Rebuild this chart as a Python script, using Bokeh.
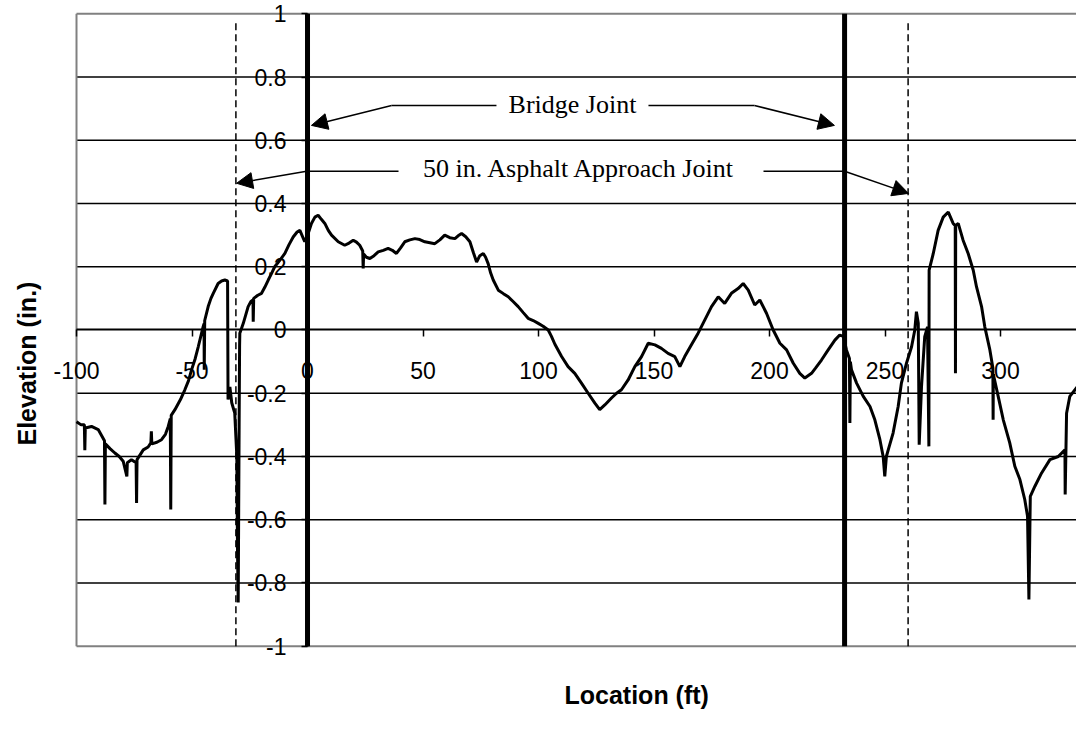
from bokeh.plotting import figure
from bokeh.models import (Range1d, LinearAxis, FixedTicker, Label, Arrow,
                          NormalHead, NumeralTickFormatter, Title)
from bokeh.embed import file_html
from bokeh.resources import INLINE

# ---------------- data ----------------
location_ft = [
    -100.0, -98.0, -96.6, -96.4, -96.2, -93.5, -90.6, -87.9, -87.7, -87.5,
    -85.5, -83.4, -81.5, -79.8, -78.2, -78.0, -76.2, -74.2, -74.0, -73.8,
    -71.1, -69.0, -67.8, -67.6, -67.4, -65.2, -63.2, -61.5, -60.3, -59.4,
    -59.2, -59.0, -57.4, -55.0, -53.1, -51.5, -50.2, -48.6, -47.3, -46.2,
    -45.2, -44.8, -44.7, -44.5, -43.0, -41.8, -40.8, -38.7, -37.2, -35.8,
    -34.6, -34.4, -33.6, -32.8, -31.5, -30.6, -30.3, -30.0, -29.6, -29.4,
    -29.3, -27.8, -25.7, -24.5, -23.6, -23.5, -23.3, -21.5, -19.9, -18.5,
    -17.0, -15.5, -14.2, -12.0, -9.8, -8.0, -6.2, -4.5, -3.3, -1.2,
    0.5, 1.7, 3.2, 4.6, 6.0, 7.5, 9.0, 10.4, 13.3, 16.1,
    18.0, 19.8, 21.2, 22.6, 23.9, 24.1, 24.3, 25.5, 27.0, 28.8,
    30.6, 32.8, 34.9, 36.7, 38.5, 40.3, 42.1, 44.3, 46.5, 48.6,
    50.8, 53.0, 55.1, 57.3, 59.4, 61.6, 63.8, 65.2, 66.7, 68.5,
    70.3, 71.8, 73.2, 74.6, 76.1, 77.1, 78.2, 79.3, 80.4, 82.6,
    84.8, 86.9, 89.0, 91.2, 93.4, 95.5, 97.7, 99.9, 102.0, 104.2,
    105.6, 107.1, 110.0, 112.8, 115.7, 118.6, 121.5, 124.4, 126.5, 128.7,
    131.6, 133.8, 135.9, 138.8, 141.7, 144.6, 147.5, 150.4, 153.2, 156.1,
    159.0, 161.2, 163.3, 166.2, 169.1, 172.0, 174.9, 177.8, 180.6, 183.5,
    186.4, 188.6, 190.8, 193.6, 195.8, 198.7, 201.6, 204.5, 207.4, 210.3,
    213.1, 215.3, 218.2, 220.0, 222.5, 225.4, 228.3, 230.4, 232.0, 233.3,
    234.6, 234.8, 235.0, 235.5, 237.7, 240.6, 243.5, 245.6, 247.8, 249.2,
    249.9, 250.6, 251.4, 253.5, 255.7, 257.1, 259.3, 261.5, 262.9, 263.6,
    264.4, 264.8, 265.8, 267.2, 268.4, 269.0, 269.1, 270.9, 273.0, 275.2,
    277.4, 279.5, 280.4, 280.5, 280.6, 281.7, 283.8, 286.0, 288.2, 289.6,
    291.8, 293.2, 295.4, 296.7, 296.8, 296.9, 299.0, 301.2, 304.0, 306.2,
    308.4, 310.5, 311.7, 312.3, 312.9, 314.9, 317.8, 321.4, 325.0, 327.9,
    328.0, 328.6, 330.0, 333.3, 335.0,
]
elevation_in = [
    -0.29, -0.30, -0.30, -0.38, -0.31, -0.305, -0.315, -0.35, -0.552, -0.36,
    -0.375, -0.389, -0.40, -0.415, -0.463, -0.42, -0.41, -0.42, -0.547, -0.41,
    -0.379, -0.37, -0.357, -0.32, -0.36, -0.355, -0.347, -0.33, -0.305, -0.28,
    -0.568, -0.27, -0.252, -0.22, -0.189, -0.16, -0.126, -0.09, -0.053, -0.02,
    0.01, 0.02, -0.126, 0.03, 0.074, 0.10, 0.116, 0.147, 0.155, 0.158,
    0.155, -0.22, -0.18, -0.23, -0.263, -0.40, -0.70, -0.862, -0.30, -0.05,
    -0.01, 0.021, 0.074, 0.09, 0.095, 0.026, 0.10, 0.11, 0.116, 0.135,
    0.158, 0.18, 0.20, 0.22, 0.242, 0.27, 0.294, 0.31, 0.315, 0.279,
    0.31, 0.337, 0.357, 0.363, 0.35, 0.337, 0.315, 0.30, 0.279, 0.268,
    0.275, 0.284, 0.278, 0.268, 0.25, 0.195, 0.24, 0.23, 0.226, 0.235,
    0.247, 0.252, 0.258, 0.252, 0.242, 0.26, 0.279, 0.285, 0.289, 0.286,
    0.279, 0.276, 0.273, 0.285, 0.30, 0.292, 0.289, 0.298, 0.305, 0.295,
    0.279, 0.245, 0.215, 0.235, 0.242, 0.23, 0.21, 0.18, 0.158, 0.126,
    0.115, 0.105, 0.09, 0.074, 0.055, 0.037, 0.03, 0.021, 0.012, 0.0,
    -0.02, -0.045, -0.084, -0.116, -0.137, -0.168, -0.20, -0.231, -0.252, -0.237,
    -0.215, -0.20, -0.189, -0.158, -0.116, -0.084, -0.042, -0.047, -0.058, -0.074,
    -0.084, -0.116, -0.084, -0.047, -0.01, 0.032, 0.074, 0.105, 0.084, 0.116,
    0.131, 0.147, 0.126, 0.079, 0.095, 0.053, 0.0, -0.042, -0.063, -0.105,
    -0.137, -0.152, -0.137, -0.12, -0.095, -0.063, -0.032, -0.016, -0.02, -0.063,
    -0.09, -0.294, -0.10, -0.126, -0.168, -0.21, -0.242, -0.284, -0.347, -0.40,
    -0.463, -0.40, -0.379, -0.326, -0.242, -0.168, -0.105, -0.053, 0.0, 0.058,
    0.021, -0.363, -0.179, -0.021, 0.01, -0.368, 0.189, 0.242, 0.315, 0.357,
    0.373, 0.337, 0.33, -0.137, 0.33, 0.337, 0.284, 0.242, 0.189, 0.137,
    0.074, 0.01, -0.063, -0.12, -0.284, -0.14, -0.21, -0.284, -0.357, -0.431,
    -0.473, -0.536, -0.589, -0.852, -0.526, -0.494, -0.452, -0.41, -0.40, -0.379,
    -0.52, -0.263, -0.21, -0.179, -0.17,
]

bridge_joints_ft = [0.0, 232.5]
approach_joints_ft = [-31.0, 260.0]

x_ticks = [-100, -50, 0, 50, 100, 150, 200, 250, 300, 350]
y_ticks = [-1, -0.8, -0.6, -0.4, -0.2, 0, 0.2, 0.4, 0.6, 0.8, 1]
y_grid = [-0.8, -0.6, -0.4, -0.2, 0.2, 0.4, 0.6, 0.8]
x_min, x_max = -100, 345
y_min, y_max = -1, 1

x_title = "Location (ft)"
y_title = "Elevation (in.)"
bridge_text = "Bridge Joint"
approach_text = "50 in. Asphalt Approach Joint"

# ---------------- figure ----------------
p = figure(width=1076, height=745,
           x_range=Range1d(-111.26, 332.9), y_range=Range1d(-1.0515, 1.042),
           x_axis_type=None, y_axis_type=None,
           output_backend="svg", toolbar_location=None,
           min_border_left=50, min_border_right=0,
           min_border_top=0, min_border_bottom=83)
p.outline_line_color = None
p.background_fill_color = "white"
p.border_fill_color = "white"

# horizontal gridlines
p.segment(x0=[x_min] * len(y_grid), y0=y_grid, x1=[x_max] * len(y_grid), y1=y_grid,
          line_color="black", line_width=1.5)
# plot-area border (top, bottom, left)
p.segment(x0=[x_min, x_min, x_min], y0=[y_max, y_min, y_min],
          x1=[x_max, x_max, x_min], y1=[y_max, y_min, y_max],
          line_color="#808080", line_width=2)

# dashed approach joints
p.segment(x0=approach_joints_ft, y0=[y_min] * 2, x1=approach_joints_ft, y1=[0.978] * 2,
          line_color="black", line_width=1.5, line_dash="7 4")

# profile
p.line(location_ft, elevation_in, line_color="black", line_width=3)

# bridge joints (thick)
p.segment(x0=bridge_joints_ft, y0=[y_min] * 2, x1=bridge_joints_ft, y1=[y_max] * 2,
          line_color="black", line_width=5)

# axes crossing at zero
xaxis = LinearAxis(fixed_location=0, ticker=FixedTicker(ticks=x_ticks),
                   bounds=(x_min, x_max),
                   formatter=NumeralTickFormatter(format="0"),
                   axis_line_color="black", axis_line_width=2,
                   major_tick_line_color="black", major_tick_line_width=1.5,
                   major_tick_out=7, major_tick_in=0,
                   minor_tick_line_color=None,
                   major_label_standoff=25,
                   major_label_text_font="Liberation Sans",
                   major_label_text_font_size="23px",
                   major_label_text_color="black")
p.add_layout(xaxis, "below")

yaxis = LinearAxis(fixed_location=0, ticker=FixedTicker(ticks=y_ticks),
                   bounds=(y_min, y_max),
                   formatter=NumeralTickFormatter(format="0.[0]"),
                   axis_line_color="black", axis_line_width=2,
                   major_tick_line_color="black", major_tick_line_width=1.5,
                   major_tick_out=6, major_tick_in=0,
                   minor_tick_line_color=None,
                   major_label_standoff=15,
                   major_label_text_font="Liberation Sans",
                   major_label_text_font_size="23px",
                   major_label_text_color="black")
p.add_layout(yaxis, "left")

# leader lines and arrows
p.segment(x0=[36.4, 147.6, -0.4, 197.4], y0=[0.710, 0.710, 0.502, 0.502],
          x1=[81.8, 193.5, 39.4, 232.5], y1=[0.710, 0.710, 0.502, 0.502],
          line_color="black", line_width=1.5)
for xs, ys, xe, ye in [(36.4, 0.710, 1.7, 0.647), (193.5, 0.710, 228.1, 0.647),
                       (-0.4, 0.502, -30.7, 0.464), (232.5, 0.502, 260.2, 0.432)]:
    p.add_layout(Arrow(end=NormalHead(size=16, fill_color="black", line_color="black"),
                       x_start=xs, y_start=ys, x_end=xe, y_end=ye,
                       line_color="black", line_width=1.5))

p.add_layout(Label(x=114.7, y=0.713, text=bridge_text, text_align="center",
                   text_baseline="middle", text_font="Liberation Serif",
                   text_font_size="26px", text_color="black"))
p.add_layout(Label(x=117.7, y=0.512, text=approach_text, text_align="center",
                   text_baseline="middle", text_font="Liberation Serif",
                   text_font_size="26px", text_color="black"))

# axis titles
p.add_layout(Title(text=x_title, align="left", offset=514, standoff=32,
                   text_font="Liberation Sans", text_font_style="bold",
                   text_font_size="25px", text_color="black"), "below")
p.add_layout(Title(text=y_title, align="left", offset=217, standoff=19,
                   text_font="Liberation Sans", text_font_style="bold",
                   text_font_size="25px", text_color="black"), "left")

open("out.html", "w").write(file_html(p, INLINE))
